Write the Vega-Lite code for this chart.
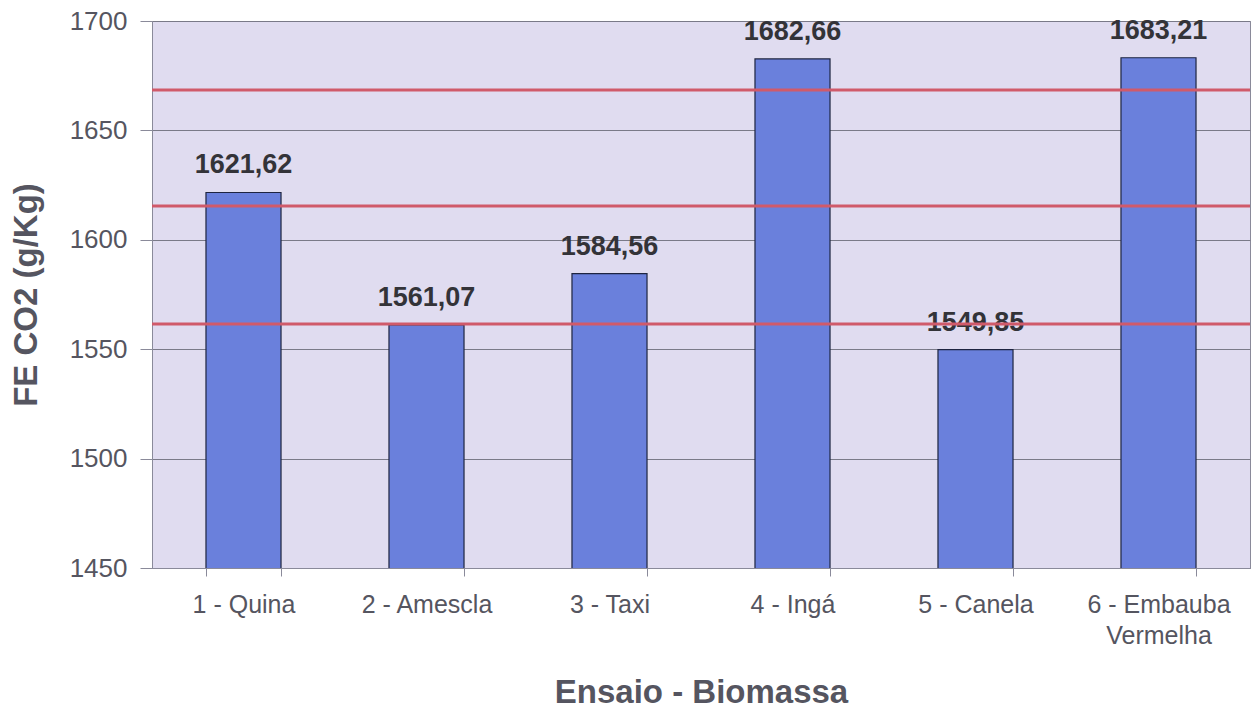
{
  "$schema": "https://vega.github.io/schema/vega-lite/v6.json",
  "autosize": "none",
  "width": 1098,
  "height": 547,
  "padding": {"left": 152, "top": 21, "right": 5, "bottom": 145},
  "background": "white",
  "config": {
    "view": {"fill": "#e0dcf0", "stroke": "#8a8a9a", "strokeWidth": 1},
    "font": "Liberation Sans"
  },
  "datasets": {
    "bars": [
      {"ensaio": "1 - Quina", "fe": 1621.62, "label": "1621,62"},
      {"ensaio": "2 - Amescla", "fe": 1561.07, "label": "1561,07"},
      {"ensaio": "3 - Taxi", "fe": 1584.56, "label": "1584,56"},
      {"ensaio": "4 - Ingá", "fe": 1682.66, "label": "1682,66"},
      {"ensaio": "5 - Canela", "fe": 1549.85, "label": "1549,85"},
      {"ensaio": "6 - Embauba Vermelha", "fe": 1683.21, "label": "1683,21"}
    ],
    "lines": [
      {"ref": 1668.5},
      {"ref": 1615.5},
      {"ref": 1561.5}
    ]
  },
  "layer": [
    {
      "data": {"name": "bars"},
      "mark": {"type": "bar", "color": "#6a80dc", "stroke": "#1e2440", "strokeWidth": 1.2, "clip": true},
      "encoding": {
        "x": {
          "field": "ensaio", "type": "nominal", "sort": null,
          "scale": {"paddingInner": 0.59, "paddingOuter": 0.295},
          "axis": {
            "title": "Ensaio - Biomassa",
            "titleFontSize": 33, "titleFontWeight": "bold", "titleColor": "#555560",
            "titleY": 108, "titleBaseline": "top",
            "labelAngle": 0, "labelFontSize": 25, "labelColor": "#555560",
            "labelPadding": 16, "labelLineHeight": 31,
            "labelExpr": "datum.value == '6 - Embauba Vermelha' ? ['6 - Embauba', 'Vermelha'] : datum.label",
            "tickBand": "extent", "tickSize": 8, "tickColor": "#8a8a9a",
            "domainColor": "#8a8a9a", "grid": false
          }
        },
        "y": {
          "field": "fe", "type": "quantitative",
          "scale": {"domain": [1450, 1700], "zero": false, "nice": false},
          "axis": {
            "title": "FE CO2 (g/Kg)",
            "titleFontSize": 33, "titleFontWeight": "bold", "titleColor": "#555560",
            "titleX": -109,
            "format": "d",
            "values": [1450, 1500, 1550, 1600, 1650, 1700],
            "labelFontSize": 26, "labelColor": "#555560", "labelPadding": 13,
            "tickSize": 12, "tickColor": "#8a8a9a", "domainColor": "#8a8a9a",
            "grid": true, "gridColor": "#7a7a88", "gridWidth": 1
          }
        }
      }
    },
    {
      "data": {"name": "bars"},
      "mark": {"type": "text", "baseline": "alphabetic", "dy": -19, "fontSize": 27, "fontWeight": "bold", "color": "#333338"},
      "encoding": {
        "x": {"field": "ensaio", "type": "nominal", "sort": null},
        "y": {"field": "fe", "type": "quantitative"},
        "text": {"field": "label"}
      }
    },
    {
      "data": {"name": "lines"},
      "mark": {"type": "rule", "color": "#d05a6a", "strokeWidth": 3},
      "encoding": {
        "y": {"field": "ref", "type": "quantitative"}
      }
    }
  ]
}
